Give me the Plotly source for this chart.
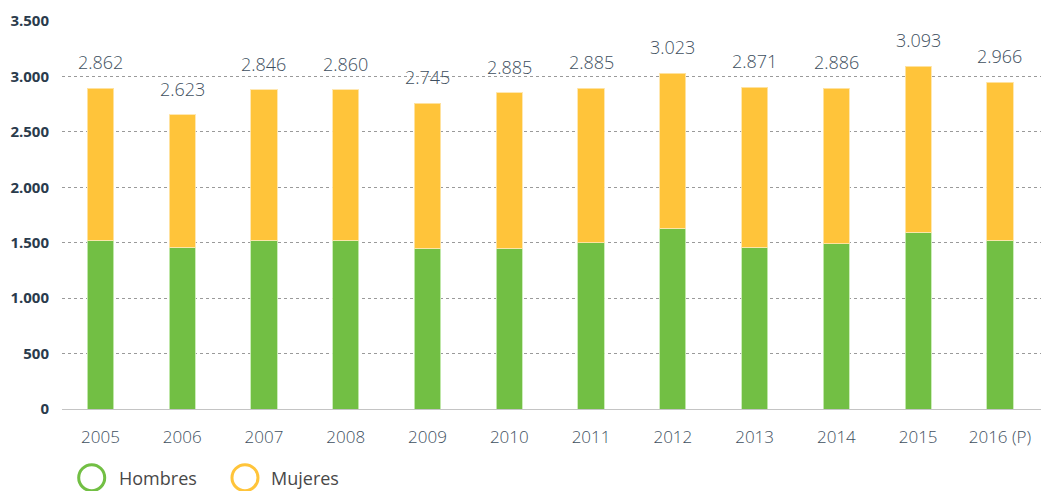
import plotly.graph_objects as go

years = ["2005", "2006", "2007", "2008", "2009", "2010", "2011", "2012", "2013", "2014", "2015", "2016 (P)"]
hombres = [1523, 1458, 1523, 1523, 1449, 1449, 1500, 1629, 1458, 1491, 1596, 1521]
mujeres = [1369, 1195, 1356, 1356, 1307, 1406, 1392, 1398, 1443, 1401, 1497, 1427]
total_labels = [2862, 2623, 2846, 2860, 2745, 2885, 2885, 3023, 2871, 2886, 3093, 2966]
y_ticks = [0, 500, 1000, 1500, 2000, 2500, 3000, 3500]

GREEN = "#72bf44"
YELLOW = "#ffc43a"
LABEL_COLOR = "#3e4f60"
FONT = "Open Sans"

x_idx = list(range(len(years)))

fig = go.Figure()
fig.add_trace(go.Bar(
    x=x_idx, y=hombres, name="Hombres", width=0.32,
    marker=dict(color=GREEN, line=dict(color="rgba(200,235,180,0.9)", width=1)),
    showlegend=False, hoverinfo="y",
))
fig.add_trace(go.Bar(
    x=x_idx, y=mujeres, name="Mujeres", width=0.32,
    marker=dict(color=YELLOW, line=dict(color="rgba(255,230,170,0.9)", width=1)),
    showlegend=False, hoverinfo="y",
))

annotations = []
for i, (h, m, lab) in enumerate(zip(hombres, mujeres, total_labels)):
    annotations.append(dict(
        x=i, y=h + m, xref="x", yref="y",
        text=f"{lab:,}".replace(",", "."),
        showarrow=False, yanchor="bottom", yshift=12,
        font=dict(family=FONT, size=18, color=LABEL_COLOR, weight=300),
    ))

# legend (manual)
leg_y = -0.177
legend_items = [("Hombres", GREEN, 0.0301, 0.0554), ("Mujeres", YELLOW, 0.1854, 0.2097)]
shapes = []
for name, col, cx, tx in legend_items:
    shapes.append(dict(
        type="circle", xref="paper", yref="paper",
        xsizemode="pixel", ysizemode="pixel",
        xanchor=cx, yanchor=leg_y, x0=-13, x1=13, y0=-13, y1=13,
        line=dict(color=col, width=3), fillcolor="rgba(0,0,0,0)",
    ))
    annotations.append(dict(
        x=tx, y=leg_y, xref="paper", yref="paper", text=name,
        showarrow=False, xanchor="left", yanchor="middle",
        font=dict(family=FONT, size=18, color="#484848", weight=500),
    ))

fig.update_layout(
    barmode="stack",
    width=1041, height=483,
    margin=dict(l=54, r=0, t=13, b=82),
    plot_bgcolor="white", paper_bgcolor="white",
    separators=",.",
    annotations=annotations,
    shapes=shapes,
    showlegend=False,
    xaxis=dict(
        tickmode="array", tickvals=x_idx, ticktext=years,
        range=[-0.47, 11.6],
        showgrid=False, zeroline=False,
        showline=True, linecolor="#c4c4c4", linewidth=1,
        ticks="", ticklabelstandoff=13,
        tickfont=dict(family=FONT, size=17, color=LABEL_COLOR, weight=300),
    ),
    yaxis=dict(
        range=[0, 3500], tickmode="array", tickvals=y_ticks,
        tickformat=",d",
        showgrid=True, gridcolor="#9a9a9a", gridwidth=1, griddash="dot",
        zeroline=False, showline=False, ticks="",
        ticklabelstandoff=12,
        tickfont=dict(family=FONT, size=15, color="#2a3b4c", weight=700),
    ),
)

fig.write_html("out.html")
